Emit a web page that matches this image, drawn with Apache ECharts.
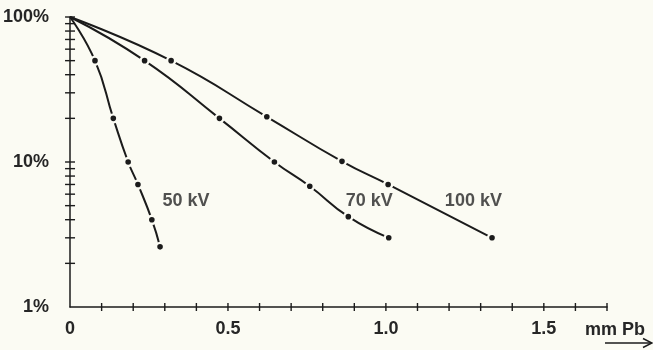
<!DOCTYPE html>
<html>
<head>
<meta charset="utf-8">
<script src="https://cdn.jsdelivr.net/npm/echarts@6/dist/echarts.min.js"></script>
<style>
html,body{margin:0;padding:0;background:#fbfbf3;}
#c{width:653px;height:350px;}
</style>
</head>
<body>
<div id="c"></div>
<script>
// Thickness in mm Pb and transmission in %
const kv50_x = [0, 0.079, 0.137, 0.184, 0.215, 0.259, 0.285];
const kv50_y = [100, 50, 20, 10, 7, 4, 2.6];
const kv70_x = [0, 0.236, 0.473, 0.647, 0.759, 0.881, 1.009];
const kv70_y = [100, 50, 20, 10, 6.8, 4.2, 3];
const kv100_x = [0, 0.320, 0.623, 0.861, 1.007, 1.336];
const kv100_y = [100, 50, 20.5, 10.1, 7, 3];

const curveNames = ['50 kV', '70 kV', '100 kV'];
const labelX = [0.367, 0.947, 1.277];
const labelY = [5.4, 5.4, 5.4];

const xTickValues = [0.1,0.2,0.3,0.4,0.5,0.6,0.7,0.8,0.9,1.0,1.1,1.2,1.3,1.4,1.5,1.6,1.7];
const xLabelValues = [0, 0.5, 1.0, 1.5];
const yTickValues = [2,3,4,5,6,7,8,9,10,20,30,40,50,60,70,80,90,100];
const yLabelValues = [1, 10, 100];
const xUnit = 'mm Pb';

const BG = '#fbfbf3';
const INK = '#1b1b1b';
const TXT = '#262626';
const FONT = '"Liberation Sans Narrow", "Liberation Sans", sans-serif';
const FS = 18;
const FW = 'bold';

function curve(xs, ys) {
  return xs.map((x, i) => i === 0 ? {value: [x, ys[i]], symbolSize: 0} : {value: [x, ys[i]]});
}

function lineSeries(name, xs, ys) {
  return {
    name: name,
    type: 'line',
    data: curve(xs, ys),
    smooth: 0.5,
    symbol: 'circle',
    symbolSize: 8,
    showAllSymbol: true,
    lineStyle: {color: INK, width: 2},
    itemStyle: {color: INK, borderColor: BG, borderWidth: 2.4},
    z: 3
  };
}

const chart = echarts.init(document.getElementById('c'), null, {renderer: 'canvas'});
chart.setOption({
  backgroundColor: BG,
  animation: false,
  grid: {left: 68, top: 17, right: 46, bottom: 43, containLabel: false},
  xAxis: {
    type: 'value', min: 0, max: 1.7, interval: 0.5,
    axisLine: {lineStyle: {color: INK, width: 1.5}},
    axisTick: {show: false},
    splitLine: {show: false},
    axisLabel: {
      color: TXT, fontFamily: FONT, fontSize: FS, fontWeight: FW, margin: 13,
      formatter: v => {
        const hit = xLabelValues.find(l => Math.abs(l - v) < 1e-6);
        if (hit === undefined) return '';
        return hit === 0 ? '0' : hit.toFixed(1);
      }
    }
  },
  yAxis: {
    type: 'log', logBase: 10, min: 1, max: 100,
    axisLine: {lineStyle: {color: INK, width: 1.5}},
    axisTick: {show: false},
    splitLine: {show: false},
    axisLabel: {
      color: TXT, fontFamily: FONT, fontSize: FS, fontWeight: FW, margin: 21,
      formatter: v => yLabelValues.some(l => Math.abs(l - v) < 1e-6) ? v + '%' : ''
    }
  },
  series: [
    lineSeries(curveNames[0], kv50_x, kv50_y),
    lineSeries(curveNames[1], kv70_x, kv70_y),
    lineSeries(curveNames[2], kv100_x, kv100_y),
    {
      type: 'scatter',
      data: labelX.map((x, i) => [x, labelY[i], curveNames[i]]),
      symbolSize: 0,
      label: {
        show: true, position: 'inside', formatter: p => p.data[2],
        color: TXT, fontFamily: FONT, fontSize: FS, fontWeight: FW
      },
      z: 4
    },
    {
      type: 'custom',
      data: yTickValues.map(v => [0, v]),
      clip: false,
      renderItem: (params, api) => {
        const p = api.coord([0, api.value(1)]);
        return {type: 'line', shape: {x1: p[0] - 5, y1: p[1], x2: p[0] + 5, y2: p[1]},
          style: {stroke: INK, lineWidth: 1.4}};
      },
      z: 2
    },
    {
      type: 'custom',
      data: xTickValues.map(v => [v, 1]),
      clip: false,
      renderItem: (params, api) => {
        const p = api.coord([api.value(0), 1]);
        return {type: 'line', shape: {x1: p[0], y1: p[1] - 4, x2: p[0], y2: p[1] + 4},
          style: {stroke: INK, lineWidth: 1.4}};
      },
      z: 2
    }
  ],
  graphic: [
    {type: 'text', left: 585, top: 321,
      style: {text: xUnit, fill: TXT, font: FW + ' ' + FS + 'px ' + FONT}},
    {type: 'line', shape: {x1: 605, y1: 343, x2: 651, y2: 343},
      style: {stroke: INK, lineWidth: 1.5}},
    {type: 'polyline', shape: {points: [[643, 338.5], [652, 343], [643, 347.5]]},
      style: {stroke: INK, lineWidth: 1.5, fill: null}}
  ]
});
</script>
</body>
</html>
